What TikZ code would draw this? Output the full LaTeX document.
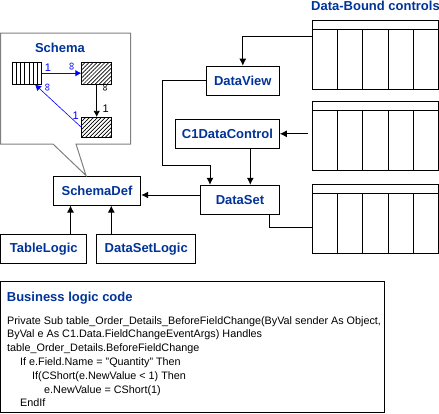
\documentclass[tikz,border=0pt]{standalone}
\usepackage{fontspec}
\setmainfont{Liberation Sans}
\usepackage{tikz}
\usepackage{xcolor}
\usetikzlibrary{arrows.meta, calc, patterns.meta}
\definecolor{labelblue}{RGB}{0, 51, 153}
\definecolor{linkblue}{RGB}{0, 0, 255}
\definecolor{calloutgray}{RGB}{128, 128, 128}
\tikzstyle{classbox} = [rectangle, minimum height=29pt, inner sep=0pt, text centered, draw=black, line width=1pt, fill=white, text=labelblue, font=\fontsize{13}{15}\selectfont\bfseries]
\tikzstyle{controlgrid} = [rectangle, minimum width=126pt, minimum height=68.6pt, draw=black, line width=1pt]
\tikzstyle{tablebox} = [rectangle, minimum width=29.4pt, minimum height=21.7pt, inner sep=0pt, draw=black, line width=0.8pt, fill=white]
\tikzstyle{hatched} = [tablebox, pattern={Lines[angle=45, distance=2.8pt, line width=0.7pt]}]
\tikzstyle{arrow} = [line width=1pt, -{Latex[length=7pt, width=7pt]}]
\tikzstyle{link} = [line width=0.8pt, -{Latex[length=6pt, width=6.5pt]}]
\tikzstyle{mult} = [inner sep=0pt, font=\fontsize{11}{12}\selectfont]
\tikzstyle{heading} = [inner sep=0pt, text=labelblue, font=\fontsize{13}{15}\selectfont\bfseries]

\begin{document}
\begin{tikzpicture}[x=1pt, y=-1pt]
\useasboundingbox (0,0) rectangle (439,413);

% Classes
\node (dataview) [classbox, minimum width=73pt] at (242.8,80.7) {DataView};
\node (c1control) [classbox, minimum width=103.6pt] at (227.5,133.8) {C1DataControl};
\node (dataset) [classbox, minimum width=78.6pt] at (240,199.8) {DataSet};
\node (schemadef) [classbox, minimum width=87.4pt] at (97,190.5) {SchemaDef};
\node (tablelogic) [classbox, minimum width=86pt] at (43.8,248.7) {TableLogic};
\node (datasetlogic) [classbox, minimum width=99pt] at (146.2,248.7) {DataSetLogic};

% Data-bound controls (grids)
\node (boundtitle) [heading] at (375.5,6) {Data-Bound controls};
\node (gridA) [controlgrid] at (375.3,55) {};
\node (gridB) [controlgrid] at (375.3,136) {};
\node (gridC) [controlgrid] at (375.3,219) {};
\foreach \g in {gridA, gridB, gridC} {
  \draw [line width=1pt] ($(\g.north west)+(0,9)$) -- ($(\g.north east)+(0,9)$);
  \foreach \i in {1,...,4}
    \draw [line width=1pt] ($(\g.north west)!\i/5!(\g.north east)+(0,9)$) -- ($(\g.south west)!\i/5!(\g.south east)$);
}

% Connections
\coordinate (viewbend) at (162.3,165.7);
\draw [arrow] ($(gridA.north west)+(0,16)$) -| (dataview.north);
\draw [arrow] (dataview.west) -| (viewbend) -| ([xshift=-30pt]dataset.north);
\draw [arrow] ([xshift=-4pt]gridB.west |- c1control.east) -- (c1control.east);
\draw [arrow] ([xshift=10.3pt]dataset.north |- c1control.south) -- ([xshift=10.3pt]dataset.north);
\draw [arrow] ([yshift=4.8pt]dataset.west) -- ([yshift=4.8pt]dataset.west -| schemadef.east);
\draw [arrow] ([xshift=26.7pt]tablelogic.north) -- ([xshift=26.7pt]tablelogic.north |- schemadef.south);
\draw [arrow] ([xshift=-34.9pt]datasetlogic.north) -- ([xshift=-34.9pt]datasetlogic.north |- schemadef.south);
\draw [line width=1pt] ([xshift=29.3pt]dataset.south) |- ([yshift=-8.3pt]gridC.west);

% Schema callout
\draw [calloutgray, line width=1pt, fill=white] (0.5,33) -- (130.7,33) -- (130.7,144) -- (76,144)
  -- ([xshift=-11pt]schemadef.north) -- (53,144) -- (0.5,144) -- cycle;
\node (schematitle) [heading] at (60,48) {Schema};
\node (tbl) [tablebox] at (27,73.2) {};
\foreach \i in {1,...,6}
  \draw [line width=0.8pt] ($(tbl.north west)!\i/7!(tbl.north east)$) -- ($(tbl.south west)!\i/7!(tbl.south east)$);
\node (relA) [hatched, minimum width=30pt] at (96.7,73.2) {};
\node (relB) [hatched, minimum width=30pt, minimum height=20pt] at (96.7,127.3) {};

\draw [link, linkblue] (tbl.east) -- (relA.west)
  node[mult, text=linkblue, pos=0.15, yshift=5.5pt] {1}
  node[mult, text=linkblue, pos=0.77, yshift=7pt, rotate=90] {∞};
\draw [link] (relA.south) -- (relB.north)
  node[mult, pos=0.1, xshift=9pt, rotate=90] {∞}
  node[mult, pos=0.75, xshift=9pt] {1};
\draw [link, linkblue, line width=0.6pt] (relB.west) -- ([xshift=8pt]tbl.south)
  node[mult, text=linkblue, pos=0.12, yshift=6.4pt] {1}
  node[mult, text=linkblue, pos=0.75, xshift=1.3pt, yshift=7.5pt, rotate=90] {∞};

% Business logic code
\node (logicbox) [rectangle, draw=black, line width=1pt, minimum width=383.8pt, minimum height=130.6pt] at (192.4,347) {};
\node (logictitle) [heading, anchor=west] at (6.7,298) {Business logic code};
\node (logiccode) [anchor=north west, align=left, inner sep=0pt, font=\fontsize{10.8}{13.8}\selectfont] at (7,316) {%
Private Sub table\_Order\_Details\_BeforeFieldChange(ByVal sender As Object,\\
ByVal e As C1.Data.FieldChangeEventArgs) Handles\\
table\_Order\_Details.BeforeFieldChange\\
\hspace*{13pt}If e.Field.Name = "Quantity" Then\\
\hspace*{25pt}If(CShort(e.NewValue < 1) Then\\
\hspace*{37pt}e.NewValue = CShort(1)\\
\hspace*{13pt}EndIf};

\end{tikzpicture}
\end{document}
